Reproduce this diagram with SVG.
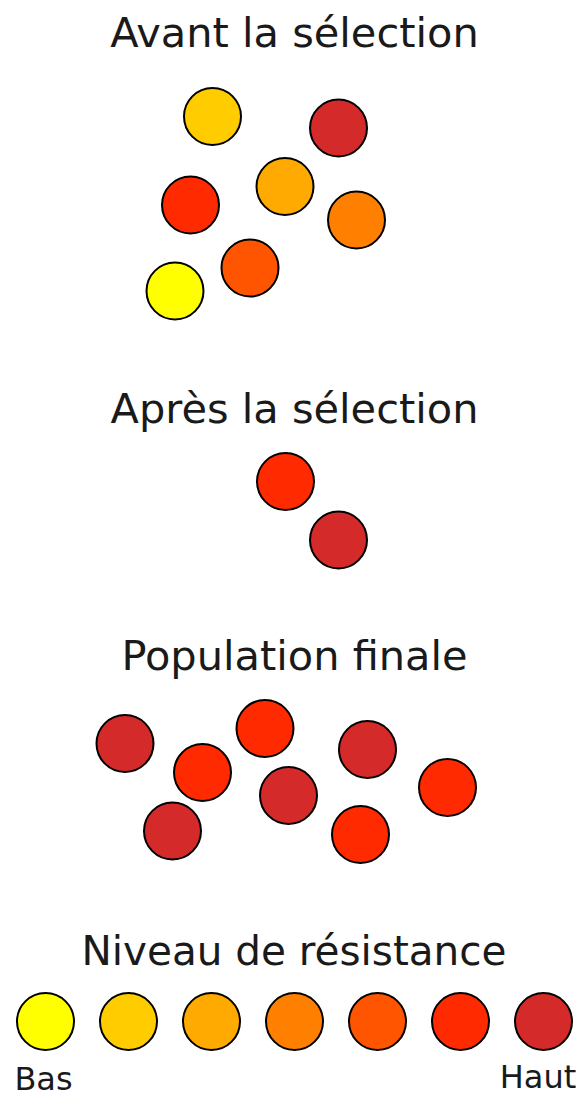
<svg xmlns="http://www.w3.org/2000/svg" width="581" height="1098" viewBox="0 0 581 1098">
<style>
text{font-family:"DejaVu Sans",sans-serif;fill:#1a1a1a;text-anchor:middle}
.t{font-size:41.5px}
.s{font-size:32px}
circle{stroke:#000;stroke-width:2}
.c1{fill:#ffff00}.c2{fill:#ffcc00}.c3{fill:#ffaa00}.c4{fill:#ff7f00}.c5{fill:#ff5500}.c6{fill:#ff2a00}.c7{fill:#d42a2a}
</style>
<rect width="581" height="1098" fill="#fff"/>
<g id="avant">
<text class="t" x="294.5" y="47">Avant la sélection</text>
<circle class="c2" cx="212.5" cy="116.5" r="28.5"/>
<circle class="c7" cx="338.5" cy="128" r="28.5"/>
<circle class="c6" cx="190.5" cy="205" r="28.5"/>
<circle class="c3" cx="285" cy="186.5" r="28.5"/>
<circle class="c4" cx="356.5" cy="220" r="28.5"/>
<circle class="c5" cx="250" cy="268" r="28.5"/>
<circle class="c1" cx="175" cy="291" r="28.5"/>
</g>
<g id="apres">
<text class="t" x="294.5" y="423">Après la sélection</text>
<circle class="c6" cx="285.5" cy="481.5" r="28.5"/>
<circle class="c7" cx="338.5" cy="540" r="28.5"/>
</g>
<g id="finale">
<text class="t" x="294.5" y="670">Population finale</text>
<circle class="c7" cx="125" cy="743.5" r="28.5"/>
<circle class="c6" cx="202.5" cy="772.5" r="28.5"/>
<circle class="c6" cx="265" cy="728.5" r="28.5"/>
<circle class="c7" cx="172.5" cy="831" r="28.5"/>
<circle class="c7" cx="288.5" cy="795.5" r="28.5"/>
<circle class="c7" cx="367.5" cy="749.5" r="28.5"/>
<circle class="c6" cx="360.5" cy="834.5" r="28.5"/>
<circle class="c6" cx="447.5" cy="787.5" r="28.5"/>
</g>
<g id="legende">
<text class="t" x="294" y="965" style="font-size:40.5px">Niveau de résistance</text>
<circle class="c1" cx="45.5" cy="1021.5" r="28.5"/>
<circle class="c2" cx="128.5" cy="1021.5" r="28.5"/>
<circle class="c3" cx="211.5" cy="1021.5" r="28.5"/>
<circle class="c4" cx="294.5" cy="1021.5" r="28.5"/>
<circle class="c5" cx="377.5" cy="1021.5" r="28.5"/>
<circle class="c6" cx="460.5" cy="1021.5" r="28.5"/>
<circle class="c7" cx="543.5" cy="1021.5" r="28.5"/>
<text class="s" x="43.5" y="1090">Bas</text>
<text class="s" x="538" y="1088">Haut</text>
</g>
</svg>
